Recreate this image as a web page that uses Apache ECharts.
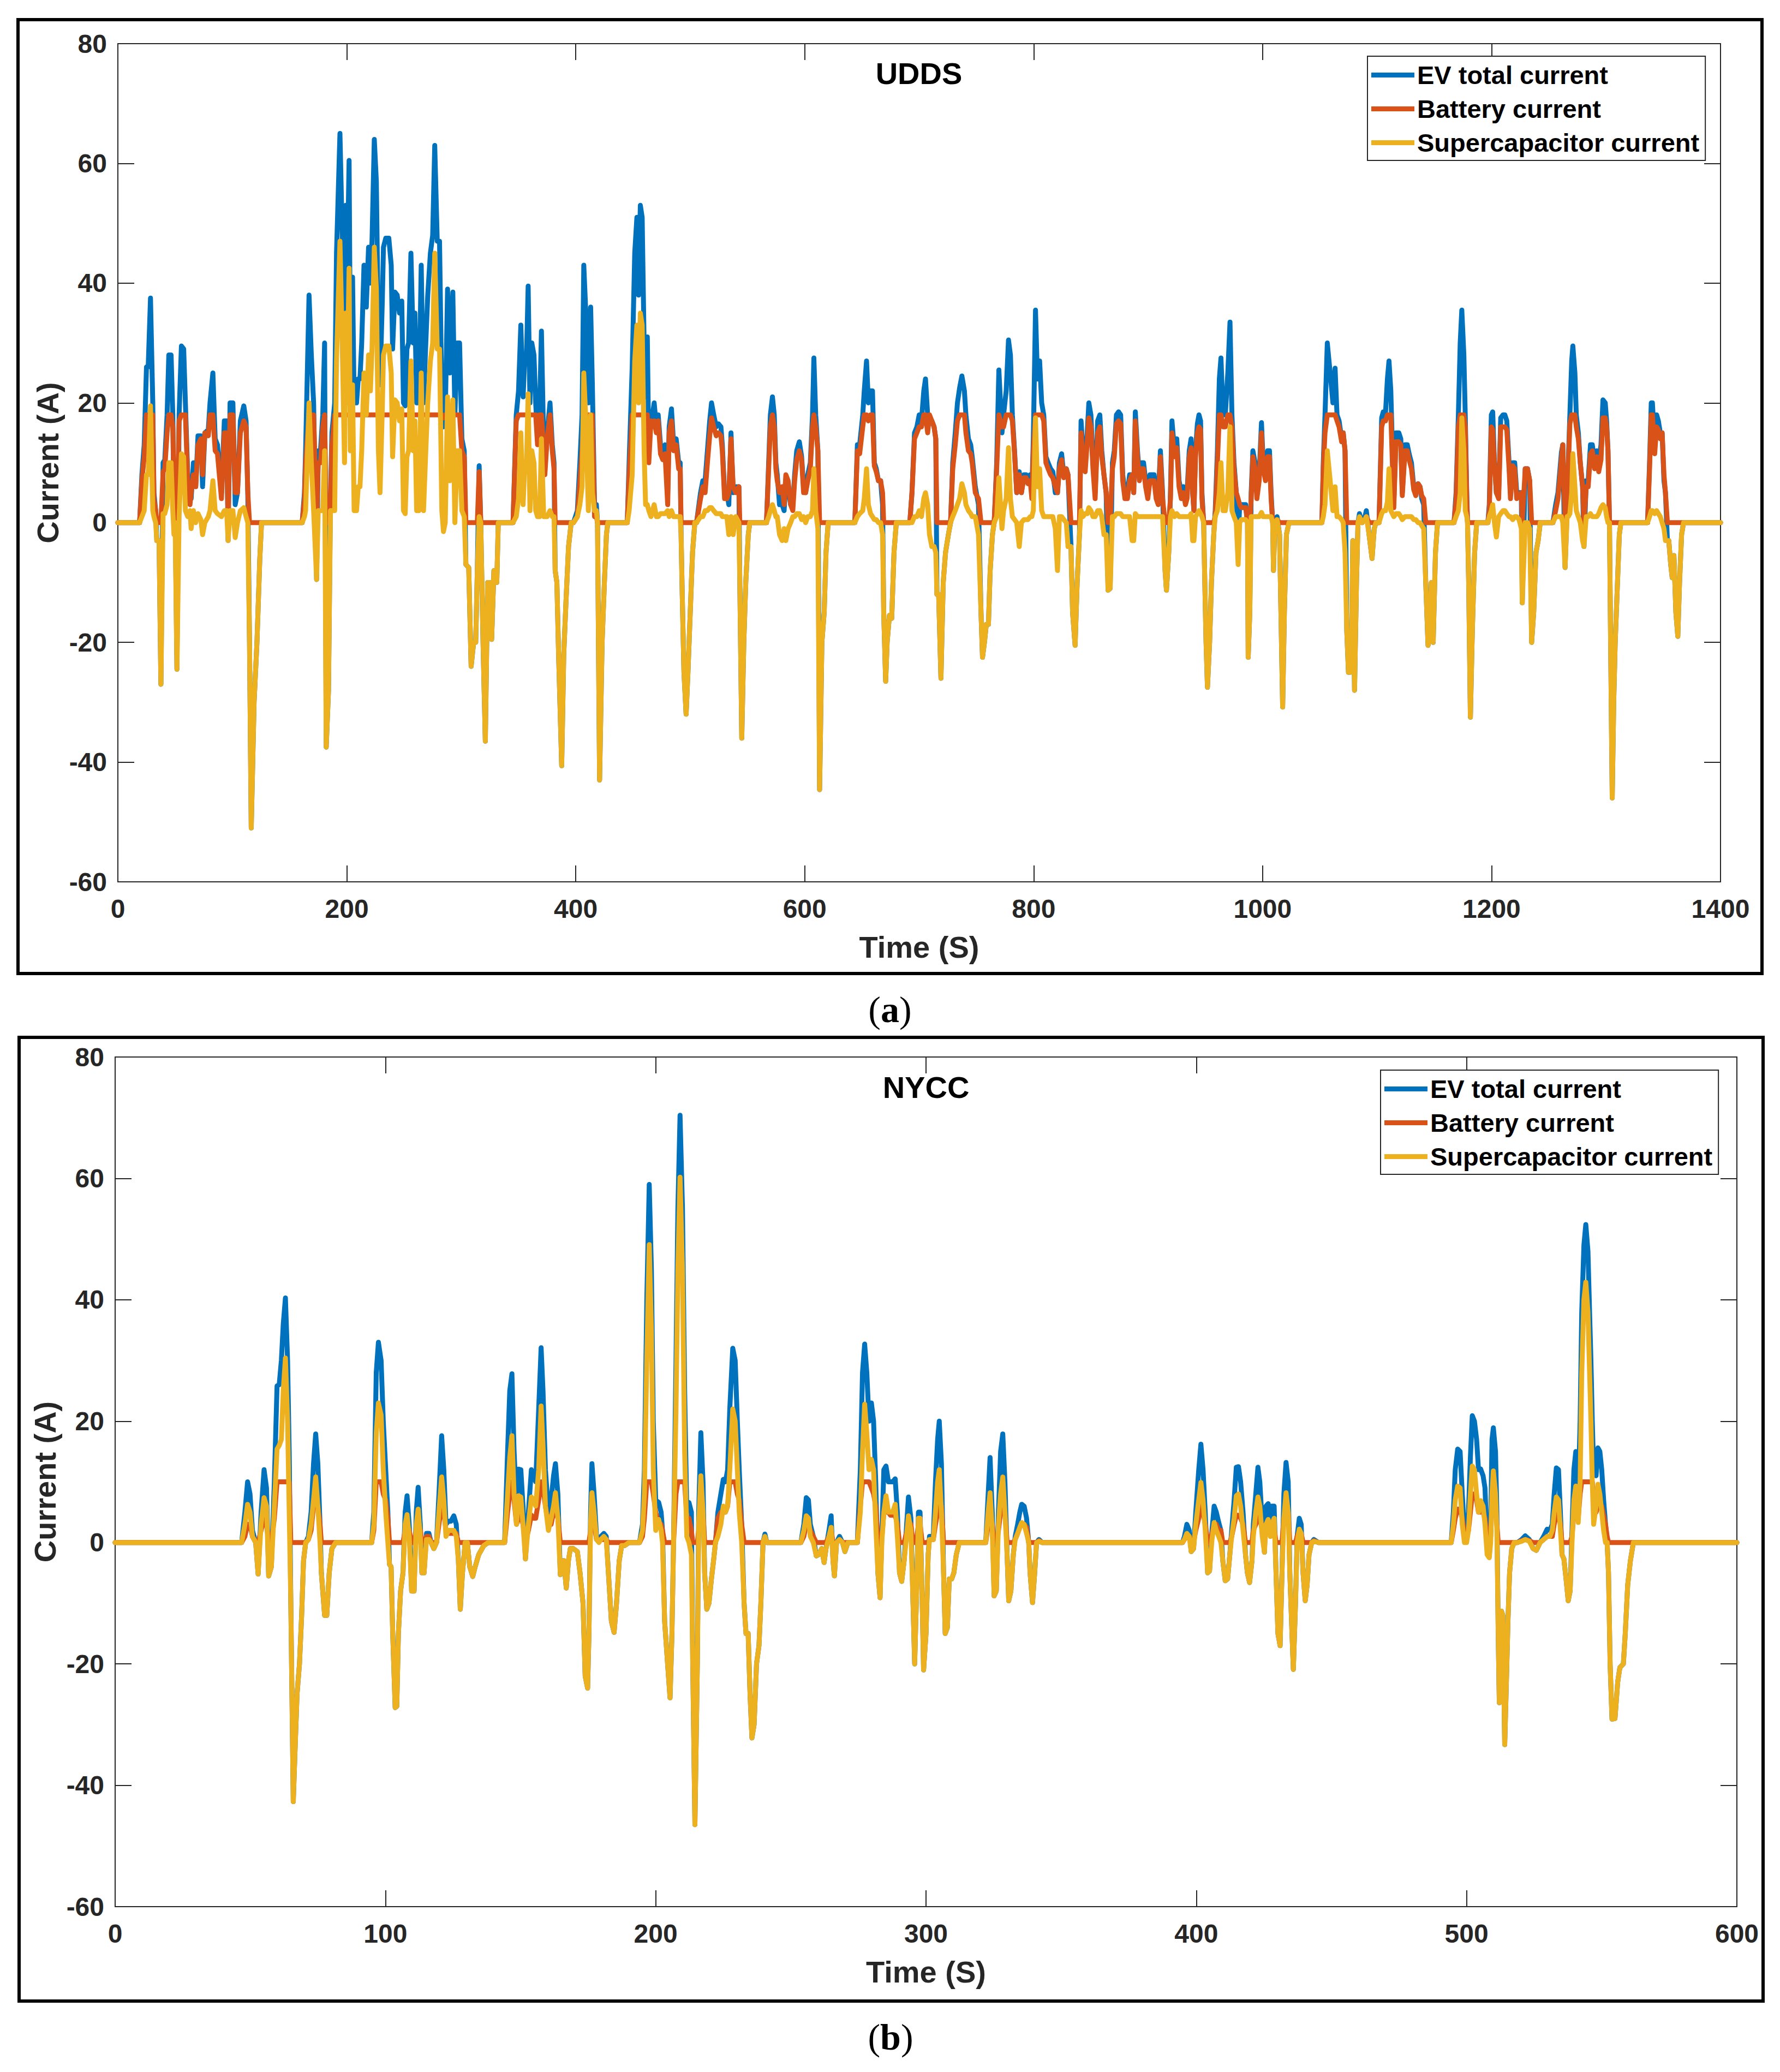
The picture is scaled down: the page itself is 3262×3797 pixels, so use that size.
<!DOCTYPE html>
<html><head><meta charset="utf-8">
<script src="https://cdn.jsdelivr.net/npm/echarts/dist/echarts.min.js"></script>
<style>html,body{margin:0;padding:0;background:#fff}#c{width:3262px;height:3797px}</style>
</head><body><div id="c"></div><script>
// ---------- UDDS (panel a) ----------
const uddsTime = [
0,19,21,23,25,26.5,28.5,30.5,31.5,33,
34,36,37.6,39.5,41,43,44.5,46.5,48,49,
50,51.6,53.5,55.5,57.5,59,61,63,64,66,
68,70,72.5,74,76,79,80.5,83,85,87,
90.5,93,95,96.3,98,100.5,102.5,104.5,107,110,
112,113.5,115,116.5,119,121.5,124,125.5,161,
163,164,167,169,171,173.6,175,177,179,180.6,
182,184,185.7,187,189.4,191,194,196,198,199,
200,202,203,205,206.4,208.5,210,211.5,213,215,
217,219,220.6,222,224,225.8,227.6,229,231,232,
234,236.7,238.8,240,242,244,246,248,249.5,251,
252.5,254,256,258,259.5,261,263,265,267,269,
270.7,273,275,276.8,279,281,283,284.4,286,288,
290,292.6,294.4,296.5,298.5,300.5,302.6,304,306.5,308.6,
310.8,312.6,314,315.6,317,319,321,323,325,326.5,
328.5,331,332.3,345.2,
348,350,352,354,355.6,357,358.4,360,361.6,363.5,
365,366.6,368.5,370,372,373,375,377.5,379.5,381,
382,383.5,385,387.7,389.5,391.5,393.7,396,398,
401.4,403.6,405.5,407,408.8,411,413,414.5,416.4,418,
419,420.8,423,425,426.8,428,445,
446.6,449.3,451.5,453.4,454.8,456.4,458,459.7,461,462.5,
463.8,465.7,467,468.5,470.4,472,474,476,478,480.3,
481.6,483.6,485.5,487.7,489.9,491.2,492,493,494.5,496.4,
498,500,502,504,505.5,
509,511,513,515,517,518.6,520.5,522.7,524.6,526.8,
528,530,532,533.7,535.6,537.5,539.7,542.5,543.3,545,
546.8,548.5,550.7,552,566.6,
568.5,570,571.8,573.4,574.8,576,578,580.3,582,583.5,
585.5,587.7,589.6,591.2,593,595.3,597.3,599,600.8,602.7,
604.9,606.8,608,609.6,611.5,613,615,617,618.6,620.5,
643.8,646,648,650.7,652,654,655.6,657.5,659.2,660.8,
662.5,664.4,666.3,668,669,670.7,672,674,676,678,
680,691.8,
693.7,695.9,698,700,702,704,705.5,707.4,709,711,
713,714.5,715.5,717,719,721,723,725.5,727.4,
729.3,731.5,733.4,735.3,737.3,739.5,740.8,743,745,746.3,
749,751.8,754,755.3,757,758.6,760.5,762,764,765.5,
767.7,769.6,772.3,773.7,776,778,779.7,781.4,783.3,785.2,
787.4,789.3,791.5,793.4,795,797,798.4,799.7,801.6,803.3,
805.2,807,808.8,810.7,812.6,814.8,816.7,818.9,820.8,822.5,
824.4,826.3,828.5,830,832.6,834,836.2,838,840,841.4,
843,845,846.8,848.2,850,851.8,853.7,855.9,857.8,859.5,
861.4,863.3,865,866.8,868.8,870.4,872.3,874.2,876,877.8,
879.7,881.9,883.8,886,887.4,888.8,890.7,892.3,894.2,896,
897.8,899.7,901.6,903.3,905.2,907,908.8,910.7,912.6,914.8,
916,918,919.5,920.8,923,925,927,929,930.7,932.6,
934,935.9,937.5,938.9,940,941.4,943,944.4,945.8,947,
948.5,949.5,950.6,951.8,953.7,955.3,957.3,958.6,
960.5,962.2,963.6,965.5,967.4,969.6,971.5,973.2,975,977,
978.6,980,981.4,983.3,985.2,986.8,987.4,988.8,990,991.5,
993.4,995,997,999,1000.5,1002.5,1004.4,1006,1007.4,1008.8,
1009.5,1010.7,1012.6,1014.8,1016,1017.5,1019,1020.8,1023,1051.8,
1053,1054.5,1056.5,1059,1061.4,1063.3,1065,1066.8,1069,1070.4,
1072,1073.5,1075,1076.5,1077.8,1078.8,1080.3,1082,1083.3,1084.6,
1086.9,1089.4,1090.6,1093,1095.6,1097.5,1099,1101.7,
1104,1105.4,1107.4,1109,1110.4,1112,1114.6,1116.5,1119,1120.7,
1122,1124.4,1126.4,1128,1130,1132,1133.8,1135.8,1137.5,1139,
1140.7,1142.5,1144.5,1146,1147.4,1149,1151,1152.8,1167.2,
1169,1171,1172.6,1174,1175.8,1177,1178.3,1179,1180,1181.5,
1183.2,1185.2,1187,1196.8,
1198,1199.8,1201,1202.5,1204.2,1206.2,1208,1210,1211.6,1213.3,
1215.3,1216.5,1218.5,1220.2,1222,1224,1226,1226.8,1229.4,1231.4,
1233.3,1235,1236.8,1238.8,1240.7,1242.5,1253.6,
1256,1258,1261,1262.2,1264.2,1266,1267,1268.4,1270,1271,
1272.8,1274,1275.8,1277.5,1279.5,1280.7,1282.7,1284.4,1286.4,1288,
1290,1292,1293.6,1295.6,1297.3,1299.3,1300.5,1301.7,1303,1304,
1305.4,1306.7,1308,1310,1311.6,1313,1336.3,
1338,1339.5,1340.5,1342.5,1344.2,1345.7,1347.4,1349,1350.6,1351.9,
1353.6,1354.8,1356.5,1357.8,1359.3,1361,1362.7,1364.2,1366,1367.7,1400
];
const uddsTotal = [
0,0,8,13,26,26,37.5,20,5,2,
-3,-3,-27,10,10.5,18,28,28,18,3,
3,-24.5,18,29.5,29,20,8,5,4,10,
6,14.5,14.5,6,15,15.5,20,25,14,13,
5,17,17,-3,20,20,3,5,17,19.5,
17,5,-20,-51,-30,-20,-6,0,0,
5,12,38,28,20,-9.5,12,12,18,30,
-37.5,-28,4,15,20,45,65,48,28,53,
38,60.5,30,41,20,20,24,24,30,43,
36,46,40,47,64,57,30,23,37,46,
47.5,47.5,43,29,38.5,38,35,37,20,19.5,
29,30,45,30,35,20,20,43,20,30,
38,45,48,63,47,47,20,16,18,39,
25,38.5,18,30,30,14,12,-7,-7.5,-24,
-20,-20,-8,9.5,0,-20,-36.5,-10,-10,-19.5,
-8,-10,0,0,
18,22,33,21,28,28,39.5,20,30,28,
20,14,19,32,13,9,15,20,13,10,
-8,-10,-22,-40.6,-22,-13,-4,0,0,
2,10,18,43,35,20,36,23,3,3,
0,-43,-20,-10,-2,0,0,
10,26,45,51,38,53,51,30,21,31,
12,18,18,20,16,18,13,12,13,5,
16,19,13,14,10,10,-2,-12,-25,-32,
-25,-15,-5,0,0,
5,7,7,12,17,20,18,16,16.5,16,
13,5,5,3,15,5,6,6,-10,-36,
-20,-10,-2,0,0,
10,18,21,18,10,8,3,3,2,6.5,
6,3,3,8,12,13.5,11,6,5,8,
10,18,27.5,18,12,-44.6,-20,-15,-5,0,
0,13,13,18,22,27,20,22,22,10,
9,7,7,3,-15,-26.5,-20,-15.5,-16,-5,
0,0,
5,15,16,18,17,22,24,18,17,17,
16,14,-12,-12,-26,-10,-5,-2,0,
10,15,20,22.5,24.5,22,18,14,13,11,
6,3,-15,-22.5,-20,-17,-17,-8,-2,0,
10,25.5,15,18,22,30.5,28,18,12,5,
8.5,5,8,8,7,8,5,14,35.5,24,
27,20,18,11,10,9,8.5,5,5,10,
11.5,8,9,8,-4,-15,-20.5,-10,-2,17,
12,10,15,20,18,10,5,17,18,12,
8,5,-11.3,-11,10,12,18,18.5,18,8,
5,5,8,8,5,18.5,12,8,10,10,
7,5,8,8,8,5,4,12,5,-8,
-11.3,-5,5,17,12,14,7,5,6,4,
5,12,14,5,2,12,16.5,18,17,5,
0,-10,-20,-27.5,-20,-10,-2,2,
12,24,27.5,18,18,25,33.5,18,10,5,
-3,3,3,3,3,0,-22.5,-15,5,12,
10,5,8,16.7,10,8,12,12,5,0,
-8,0,1,-2,-15,-30.8,-15,-2,0,0,
10,18,30,25,20,25.8,18,17,14,15,
12,-18,-25,-25,-18,-3,-28,-10,0,1.5,
0,1,2,-2,-6,-1,0,0,
17.5,18.5,18.5,24,27,22,3.3,15,15,14,
5,13,13,11.5,10,6,5,6.5,6,4,
3,-10,-20.5,-19.5,-10,-20,-5,0,0,
5,18,30,35.5,28,18,5,0,-10,-32.5,
-18,-5,0,0,
3,18,18.5,10,5,5,17.5,18,18,17,
10,5,10,10,5,5,5,-13.4,9,9,
7,-20,-15,-5,-3,0,0,
3,5,11.7,13,-7.5,2,10,18,27,29.5,
25,18,15,10,6,-4,7,7,13,13,
10,12,10,13,20.5,20,17,12,0,-20,
-46,-30,-20,-10,-2,0,0,
10,20,20,13,18,17,15,15,7,5,
-3,-3,-7,-9.2,-5.5,-15,-19,-10,-2,0,0
];
const uddsBattery = [
0,0,7,11,18,18,18,18,4,2,
0,0,0,8.5,9,15,18,18,16,5,
3,0,17,18,18,18,7,3,5,8,
6,13,14,8,15,14.5,18,18,12,11.5,
4,15,15,0,18,18,5,5,15,17,
16,5,0,0,0,0,0,0,0,
4,10,18,18,18,0,10,10,16,18,
0,0,2,13,18,18,18,18,18,18,
18,18,18,18,18,18,18,18,18,18,
18,18,18,18,18,18,18,18,18,18,
18,18,18,18,18,18,18,18,18,18,
18,18,18,18,18,18,18,18,18,18,
18,18,18,18,18,18,18,17.5,18,18,
18,18,18,18,18,12,11,0,0,0,
0,0,0,8.5,0,0,0,0,0,0,
0,0,0,0,
17,18,18,18,18,18,18,18,18,18,
18,13,18,18,12,8,14,18,12,9,
0,0,0,0,0,0,0,0,0,
1,7,12,18,18,18,18,18,1,1,
0,0,0,0,0,0,0,
8,18,18,18,18,18,18,18,18,18,
10,17,16,17,15,17,11.5,10.5,11.5,3,
15,17,12,13,9,9,0,0,0,0,
0,0,0,0,0,
4,6,5,10,14.5,17.5,16,14.5,15,14.5,
12,4,4,5,14,6,5,6,0,0,
0,0,0,0,0,
9,16,18,16,9,7,5,6,3,8,
7,3,2,7,10.5,12,10.5,5,5,7,
9,16,18,16,12,0,0,0,0,0,
0,12,11.5,16,18,18,17,18,18,9.5,
8.5,7,7,5,0,0,0,0,0,0,
0,0,
5,14,15,16,16,18,18,15,18,17,
16,14,0,0,0,0,0,0,0,
9,13,17,18,18,18,15,12,11.5,10,
5,4,0,0,0,0,0,0,0,0,
9,18,16,16,18,18,18,17,11.5,5,
8,5,7.5,7.5,6.5,7,4,12,18,18,
18,18,17,10,9,8,7.5,6,5,9,
10.5,7.5,9,8,0,0,0,0,0,15,
11,8.5,13.5,17.5,16,9,4,15,16,11,
8,5,0,0,9,11,16.5,17,16.5,7,
4,4,7,8,5,17,11,7,9,9,
6,4,7,7,7,4,3,11,4,0,
0,0,4,15,11,12.5,6,4,5,3,
4,11,12.5,5,2,11,15,16,15.5,4,
0,0,0,0,0,0,0,1,
10,18,18,16,16,18,18,16,9,5,
4,3,2.5,2.5,2.5,0,0,0,4,11,
9,4,7,15,9,7,11,11,4,0,
0,0,0.5,0,0,0,0,0,0,0,
9,15,18,18,18,18,17,16,13.5,15,
12,0,0,0,0,0,0,0,0,0.5,
0,0.5,1,0,0,0,0,0,
16,17,17,18,18,18,2.5,13.5,13.5,13,
4.5,12,12,10.5,9,5.5,4.5,6.5,6,4.5,
4,0,0,0,0,0,0,0,0,
4,16,18,18,18,16,4,0,0,0,
0,0,0,0,
2,16,15.5,10,5,4,16,16,16,15.5,
9,4,9.5,9,4,4.5,5,0,9,9,
7,0,0,0,0,0,0,
2,4,10.5,13,0,1,9,16.5,18,18,
18,16,14,10,6,0,6,6,11.5,12,
9,11,8.5,10.5,17.5,17.5,16,12,0,0,
0,0,0,0,0,0,0,
9,18,18,11.5,16,15.5,14,15,8,5,
0,0,0,0,0,0,0,0,0,0,0
];
const uddsSupercap = [
0,0,1,2,8,8,19.5,2,1,0,
-3,-3,-27,1.5,1.5,3,10,10,2,-2,
0,-24.5,1,11.5,11,2,1,2,-1,2,
0,1.5,0.5,-2,0,1,2,7,2,1.5,
1,2,2,-3,2,2,-2.5,0,2,2.5,
1,0,-20,-51,-30,-20,-6,0,0,
1,2,20,10,2,-9.5,2,2,2,12,
-37.5,-28,2,2,2,27,47,30,10,35,
20,42.5,12,23,2,2,6,6,12,25,
18,28,22,29,46,39,12,5,19,28,
29.5,29.5,25,11,20.5,20,17,19,2,1.5,
11,12,27,12,17,2,2,25,2,12,
20,27,30,45,29,29,2,-1.5,0,21,
7,20.5,0,12,12,2,1,-7,-7.5,-24,
-20,-20,-8,1,0,-20,-36.5,-10,-10,-19.5,
-8,-10,0,0,
1,4,15,3,10,10,21.5,2,12,10,
2,1,1,14,1,1,1,2,1,1,
-8,-10,-22,-40.6,-22,-13,-4,0,0,
1,3,6,25,17,2,18,5,2,2,
0,-43,-20,-10,-2,0,0,
2,8,27,33,20,35,33,12,3,3,
2,1,2,3,1,1,1.5,1.5,1.5,2,
1,2,1,1,1,1,-2,-12,-25,-32,
-25,-15,-5,0,0,
1,1,2,2,2.5,2.5,2,1.5,1.5,1.5,
1,1,1,-2,1,-2,1,0,-10,-36,
-20,-10,-2,0,0,
1,2,3,2,1,1,-2,-3,-1,-3,
-1,0,1,1,1.5,1.5,0.5,1,0,1,
1,2,9,2,-1,-44.6,-20,-15,-5,0,
0,1,1.5,2,4,9,3,1.5,1,0.5,
0.5,0,0,-2,-15,-26.5,-20,-15.5,-16,-5,
0,0,
0,1,1,2,1,4,5,3,-2,-4,
-4,-5,-12,-12,-26,-10,-5,-2,0,
1,2,3,4,6.5,5,3,2,1.5,1,
1,-2,-15,-22.5,-20,-17,-17,-8,-2,0,
1,7.5,-1,2,4,12.5,4,1,0.5,0,
-4,0,0.5,0.5,0.5,1,1,2,17.5,6,
9,2,1,1,1,1,1,-1,-8,1,
1,0.5,0,-4,-4,-15,-20.5,-10,-2,2,
1,1.5,1.5,2.5,2,1,1,2,2,1,
-2,-2,-11.3,-11,1,1,1.5,1.5,1.5,1,
1,1,1,-3,-3,1.5,1,1,1,1,
1,1,1,1,1,1,1,1,1,-8,
-11.3,-5,1,2,1,1.5,1,1,1,1,
1,1,1.5,-3,-3,1,1.5,2,1.5,1,
0,-10,-20,-27.5,-20,-10,-2,1,
2,5,10,2,2,5,16,2,1,0,
-7,0,0.5,0.5,0.5,0,-22.5,-15,1,1,
1,1,1,1.7,1,1,1,1,1,0,
-8,0,0.5,-2,-15,-30.8,-15,-2,0,0,
1,3,12,7,2,6,1,1,0.5,0,
-5,-18,-25,-25,-18,-3,-28,-10,0,1,
0,0.5,1,-2,-6,-1,0,0,
1.5,2,2,3.5,9,2,1,1.5,1.5,1,
0.5,1,1,1,1,0.5,0.5,0,0,-0.5,
-1,-10,-20.5,-19.5,-10,-20,-5,0,0,
1,2,5,17.5,12,2,1,0,-10,-32.5,
-18,-5,0,0,
1,2,3,0,-2.4,1,1.5,2,2,1.5,
1,1,0.5,1,1,0.5,-1,-13.4,0,0,
-1,-20,-15,-5,-3,0,0,
1,1,1,0,-7.5,1,1,1.5,5,11.5,
6,2,1,0,-3,-4,1,1,1.5,1,
1,1,1.5,2.5,3,2.5,1,0,0,-20,
-46,-30,-20,-10,-2,0,0,
1,2,2,1.5,2,1.5,1,0,-1,-3,
-3,-3,-7,-9.2,-5.5,-15,-19,-10,-2,0,0
];

// ---------- NYCC (panel b) ----------
const nyccTime = [
0,46.8,48,49,49.9,50.8,52,52.9,54,55.1,
56,56.8,57.8,58.9,59.9,60.7,61.5,62.2,63,63.8,
64.4,65,65.9,66.5,67.3,68.2,69,69.7,70.5,71.5,
72.5,73.4,74.2,75,75.8,76.3,77.5,78.3,79.2,80.2,
81.6,94.9,95.7,96.6,97.4,98.4,99.2,100.1,100.9,101.5,
102.1,102.7,103.6,104.2,104.8,105.6,106.5,107.3,108,108.8,
109.7,110.6,111.4,112.1,112.9,113.5,114.3,115.2,116.1,116.9,
117.9,118.9,119.8,120.8,121.6,122.4,123.3,124.2,125.3,126.2,
127,127.7,128.5,129.5,130.3,131.2,132.3,133.2,134.5,136.4,
138,144.1,145.2,146,146.8,147.6,148.5,149.2,150.1,150.9,
151.8,152.9,154,154.8,155.6,156.7,157.6,158.3,159.2,160.3,
161.3,162.2,162.9,163.8,164.7,165.5,166,166.9,167.7,168.4,
169.5,171,172,173.1,173.9,174.8,175.3,175.9,176.4,177.2,
178.1,179,179.7,180.8,181.7,182.5,183.6,184.6,185.5,186.5,
187.4,188.5,190.1,194,195.1,195.8,196.7,197.6,198.4,199.1,
200,201.1,202,202.5,203.3,204.4,205.3,206,206.6,207.5,
208.2,209,209.9,210.7,211.5,212.3,213.2,213.7,214.5,215.4,
215.9,216.7,217.5,218.1,218.9,219.7,220.6,221.4,222.1,223,
224.1,225,225.8,226.6,227.4,228.5,229.4,230.2,230.9,231.8,
232.7,233.4,234.2,234.9,235.6,236.4,237.3,238.2,238.9,239.7,
240.4,241.1,253.7,254.8,255.7,256.5,257.2,258.3,259.4,260.3,
261.4,262.3,263,264.1,264.9,265.6,266.1,266.9,268,269.1,
270,271.1,274.6,275.7,276.5,277.3,278.1,278.9,279.8,280.6,
281.4,282.2,283,283.7,284.4,285.2,286.1,286.8,287.7,288.6,
289.4,290.2,291,291.9,292.7,293.5,294.4,295.2,295.8,296.4,
297.2,297.8,298.6,299.1,300,300.8,301.3,302.1,302.7,303.5,
304.3,304.9,305.7,306.5,307.1,307.9,308.6,309.5,310.3,311.2,
312.3,322.1,323,323.7,324.5,325.2,326,326.8,327.6,328.4,
329.2,330,330.6,331.4,332.3,333,333.9,334.7,335.4,336.3,
337.2,338,338.5,339.4,340.2,340.9,341.8,342.9,394.9,395.6,
396.5,397.4,398.1,399,399.8,400.9,401.7,402.5,403.3,404.2,
404.9,405.8,406.6,407.4,408.3,409.1,409.8,410.7,411.6,412.4,
413.1,414,414.8,415.6,416.4,417.3,418.2,418.9,419.7,420.6,
421.1,422,422.8,423.5,424.4,425.2,425.8,426.6,427.4,428,
428.8,429.5,430.2,431,431.7,432.4,433.2,434,434.6,435.4,
435.9,436.7,437.3,438.1,438.8,439.5,440.3,441,441.7,442.7,
443.5,445.2,494.3,495.1,495.8,496.7,497.6,498.4,499.2,500,
500.7,501.4,502.1,502.9,503.7,504.4,505.2,506.1,506.8,507.6,
508.4,508.9,509.4,509.9,510.7,511.2,511.7,512.1,512.9,513.4,
514.1,514.6,515.3,515.9,516.7,517.6,518.8,520.4,521.7,523.2,
524.6,525.8,527.2,528.5,529.8,530.8,531.7,532.4,533.2,534,
534.7,535.3,536,536.8,537.6,538.3,539,539.7,540.4,541.3,
542,542.6,543.4,544.1,544.9,545.5,546,546.5,547,547.9,
548.6,549.3,550,550.7,551.4,552,552.5,553.1,553.8,554.9,
555.9,556.7,558,558.7,559.6,560.6,561.7,600
];
const nyccTotal = [
0,0,5,10,8,2,0,-5.2,5,12,
9,-5.5,-4,10,25.8,26,30,36,40.3,30,
15,-10,-42.7,-35,-25,-20,-12,-3,0,1,
5,13,17.9,13,3,-5,-12,-12,-5,-1,
0,0,5,28,33,30,20,12,5,-3.6,
-4,-15,-27.2,-27,-15,-8,-5,5,7.7,3,
-8,-8,5,9.1,3,-5,-5,1.5,1.5,0,
-1,0,8,17.6,12,3,3.5,3.5,4.4,3,
-3,-11,-5,0,0,-4,-5.6,-4,-2,-0.5,
0,0,15,25,27.8,15,6,12.1,12,6,
-2.7,5,12,11,10,22,32.1,25,12,5,
7,11,13,8,-5.3,-3,-3,-7.5,-3,-1,
-1,-1.5,-5,-10,-22,-24,-15,5,13,8,
1,0.5,1,1.5,1,-5,-13,-14.8,-10,-3,
-0.5,-0.5,0,0,3,12,40,59,45,20,
7,6.6,5,2,-13,-20,-25.6,-15,0,30,
55,70.4,55,25,5,6.6,5,-20,-46.5,-20,
5,18.1,10,-5,-11,-10,-6,-3,0,5,
8,10.4,10,12,22,32,30,20,12,3,
-10,-15,-15,-25,-32.2,-30,-20,-17,-10,0,
1.4,0,0,3,7.4,7,3,1,-2.2,-2,
-1,-3.3,-1,2,4.4,-3,-5.5,0,1,0,
-1.5,0,0,12,28,32.7,28,20,23,20,
10,-5,-9.1,2,12,12.6,10,10,10,10.5,
5,-5,-6.4,-3,2,7.5,4,-10,-20,-10,
5,5,-10,-21,-15,-2,1,1,1,10,
17,20,13,-5,-15,-14,-6,-6,-5,-2,
0,0,8,14,5,-8.8,-8,5,15,17.9,
10,-2,-9.6,-8,-2,1,3,5,6.3,6,
4,0,-5,-9.9,-5,0,0.5,0,0,1,
3,2,-1.5,-1,5,12,16.2,12,5,-5,
-4.7,2,6,5,3.3,2,-3,-6.3,-6,-2,
2,7,12.4,12.5,10,5,-2,-5,-6.6,-3,
3,8,12.4,10,3,-1.6,6,6.4,3,6,
6,-5,-15,-17,-5,8,13.2,10,-5,-15,
-20.9,-10,1,4,3,-5,-9.6,-7,-2,0,
0.5,0,0,5,12,15.4,15,8,2,1,
5,14,20.9,20,17,12,12.1,11,9,0,
-2.2,2,17,18.9,15,5,-15,-26.4,-11.3,-12,
-33.3,-25,-13,-5,-1,0,0,0.5,1.1,0.5,
-1,-1.3,0,1,2.2,2,3,8,12.3,12,
5,-2,-2.7,-6,-9.6,-8,2,12,15,8,
20,38,49,52.4,48,38,30,20,12,11,
15.6,15,12,7,3,0,-5,-20,-29.1,-29,
-23,-20.6,-20,-15,-7,-3,0,0
];
const nyccBattery = [
0,0,1,3,3,1,0,0,2,4,
3,0,0,4,10,10,10,10,10,10,
10,0,0,0,0,0,0,0,0,0.5,
2,6,6.5,6,3,0,0,0,0,0,
0,0,2,10,10,10,8,7,4,0,
0,0,0,0,0,0,0,2,3,2,
0,0,2,3.5,2,0,0,1,1,0,
0,0,3,6.5,5,2,1.5,1.5,1.5,1.5,
0,0,0,0,0,0,0,0,0,0,
0,0,5,8,10,7,3,4,4.5,3,
0,2,4.5,4,4,7,10,9,6,3,
3,5,5.5,4,0,0,0,0,0,0,
0,0,0,0,0,0,0,2,5,3,
0.5,0.5,0.5,0.5,0.5,0,0,0,0,0,
0,0,0,0,1,4,10,10,10,8,
5,3,3,2,0,0,0,0,0,8,
10,10,10,10,4,4,2,0,0,0,
2,7,5,0,0,0,0,0,0,4,
5,5,5,6,10,10,10,8,7,3,
0,0,0,0,0,0,0,0,0,0,
0.5,0,0,1,3,3,2,1,0,0,
0,0,0,1,2,0,0,0,0.5,0,
0,0,0,6,10,10,10,10,9,8,
6,0,0,1,5,5,5,4.5,4.5,4.5,
3,0,0,0,1.5,3,3,0,0,0,
3,3,0,0,0,0,0.5,0.5,0.5,3,
5,7,6,0,0,0,0,0,0,0,
0,0,3,5,3,0,0,2,5,6,
5,0,0,0,0,0.5,1.5,2.5,3,3,
2.5,0,0,0,0,0,0.3,0,0,0.5,
1,1,0,0,2,4,6,5,3,0,
0,1.5,3,3,2,2,0,0,0,0,
1,3,4.5,4.5,4,3,0,0,0,0,
2,3,4.5,4,2,0,3,2.5,2,3,
2.5,0,0,0,0,4,5,5,0,0,
0,0,1,2,1.5,0,0,0,0,0,
0.3,0,0,2,4,5.5,5.5,4,1.5,1,
2,5,8,8,7,5,5,5,4,1,
0,1,7,7.5,7,3,0,0,0,0,
0,0,0,0,0,0,0,0.3,0.5,0.3,
0,0,0,0.5,1,1,1,3,4.5,5,
3,0,0,0,0,0,1,5,5.5,4,
8,10,10,10,10,10,10,10,8,5,
6,6,6,4.5,3,1,0,0,0,0,
0,0,0,0,0,0,0,0
];
const nyccSupercap = [
0,0,3,6.3,5,1,0,-5.2,3,7.4,
6,-5.5,-4,6,15.4,16,17,25,30.4,20,
5,-10,-42.7,-35,-25,-20,-12,-3,0,0.5,
3,7,10.8,6,0,-5,-12,-12,-5,-1,
0,0,3,18,23,21,12,5,0,-3.6,
-4,-15,-27.2,-27,-15,-8,-5,3,4.6,1,
-8,-8,3,5.5,1,-5,-5,0.5,0.5,0,
-1,0,5,10.8,7,1,2,2,2,1,
-3,-11,-5,0,0,-4,-5.6,-4,-2,-0.5,
0,0,8,14,17.6,8,3,7.7,7.5,3,
-2.7,3,7.5,7,6,12,22.5,16,6,2,
4,6,8.2,4,-5.3,-3,-3,-7.5,-3,-1,
-1,-1.5,-5,-10,-22,-24,-15,3,8.2,5,
0.5,0,0.5,1,0.5,-5,-13,-14.8,-10,-3,
-0.5,-0.5,0,0,2,8,30,49.1,35,12,
2,3.8,2,0,-13,-20,-25.6,-15,0,22,
45,60.2,45,15,1,0,-2,-20,-46.5,-20,
3,11,5,-5,-11,-10,-6,-3,0,1,
3,6,5,6,12,22,20,12,5,0,
-10,-15,-15,-25,-32.2,-30,-20,-17,-10,0,
1,0,0,2,4.4,4,1,0,-2.2,-2,
-1,-3.3,-1,1,2.5,-3,-5.5,0,0.5,0,
-1.5,0,0,5,15,22.8,18,12,13.7,12,
3,-5,-9.1,0.5,5,7.7,5,5,5,6.3,
1,-5,-6.4,-3,0.5,4.4,2,-10,-20,-10,
4,4,-10,-21,-15,-2,0.5,0.5,0.5,5,
10,12,5,-5,-15,-14,-6,-6,-5,-2,
0,0,5,8.2,2,-8.8,-8,3,8,10.8,
5,-2,-9.6,-8,-2,0.5,1.5,2.5,3.3,3,
1.5,0,-5,-9.9,-5,0,0.2,0,0,0.5,
1.5,1,-1.5,-1,3,7,9.9,7,2,-5,
-4.7,0.5,3.3,2,1,0,-3,-6.3,-6,-2,
1,4,7.7,8,6,2,-2,-5,-6.6,-3,
1,5,7.5,6,1,-1.6,3,3.8,1,3,
4,-5,-15,-17,-5,4,8.2,5,-5,-15,
-20.9,-10,0,2.2,1.5,-5,-9.6,-7,-2,0,
0.2,0,0,3,7,9.3,9,3,0,0,
2,8,12.6,12,8,5,6.9,6,3,-2,
-2.5,0,8,11.8,8,2,-15,-26.4,-11.3,-12,
-33.3,-25,-13,-5,-1,0,0,0.2,0.5,0.2,
-1,-1.3,0,0.5,1,1,2,5,7.5,7,
2,-2,-2.7,-6,-9.6,-8,0,7,9.3,3.3,
10,28,40,42.9,38,28,20,10,3,6,
9.6,8,5,2,0,0,-5,-20,-29.1,-29,
-23,-20.6,-20,-15,-7,-3,0,0
];

// ---------- axes / labels ----------
const seriesNames = ['EV total current', 'Battery current', 'Supercapacitor current'];
const seriesColors = ['#0072BD', '#D95319', '#EDB120'];
const yTicks = { min: -60, max: 80, step: 20 };
const uddsX = { max: 1400, step: 200 };
const nyccX = { max: 600, step: 100 };
const panelTitles = ['UDDS', 'NYCC'];
const panelLetters = ['a', 'b'];

function zip(t, v) {
  const n = Math.min(t.length, v.length);
  if (t.length !== v.length) console.warn('length mismatch', t.length, v.length);
  const out = [];
  for (let i = 0; i < n; i++) out.push([t[i], v[i]]);
  return out;
}

const FONT = '"Liberation Sans", Arial, Helvetica, sans-serif';
const SERIF = '"Liberation Serif", "Times New Roman", serif';
const AX = '#262626';
const axLine = { show: true, onZero: false, lineStyle: { color: AX, width: 2 } };
const axTick = { show: true, inside: true, length: 30, lineStyle: { color: AX, width: 2 } };
const plain = v => String(v);

function xPair(gi, cfg) {
  return [{
    type: 'value', gridIndex: gi, position: 'bottom', min: 0, max: cfg.max, interval: cfg.step,
    axisLine: axLine, axisTick: axTick, splitLine: { show: false },
    axisLabel: { show: true, formatter: plain, color: AX, fontFamily: FONT, fontWeight: 'bold', fontSize: 48, margin: 25, showMinLabel: true, showMaxLabel: true },
    name: 'Time (S)', nameLocation: 'middle', nameGap: 91,
    nameTextStyle: { color: AX, fontFamily: FONT, fontWeight: 'bold', fontSize: 56 }
  }, {
    type: 'value', gridIndex: gi, position: 'top', min: 0, max: cfg.max, interval: cfg.step,
    axisLine: axLine, axisTick: axTick, splitLine: { show: false }, axisLabel: { show: false }
  }];
}
function yPair(gi) {
  return [{
    type: 'value', gridIndex: gi, position: 'left', min: yTicks.min, max: yTicks.max, interval: yTicks.step,
    axisLine: axLine, axisTick: axTick, splitLine: { show: false },
    axisLabel: { show: true, formatter: plain, color: AX, fontFamily: FONT, fontWeight: 'bold', fontSize: 48, margin: 20, showMinLabel: true, showMaxLabel: true },
    name: 'Current (A)', nameLocation: 'middle', nameGap: 100, nameRotate: 90,
    nameTextStyle: { color: AX, fontFamily: FONT, fontWeight: 'bold', fontSize: 56 }
  }, {
    type: 'value', gridIndex: gi, position: 'right', min: yTicks.min, max: yTicks.max, interval: yTicks.step,
    axisLine: axLine, axisTick: axTick, splitLine: { show: false }, axisLabel: { show: false }
  }];
}
function mkLine(idx, data, xi, yi) {
  return {
    type: 'line', name: seriesNames[idx], data, xAxisIndex: xi, yAxisIndex: yi,
    symbol: 'none', showSymbol: false, animation: false, silent: true, clip: true, z: 2 + idx,
    lineStyle: { color: seriesColors[idx], width: 9, cap: 'round', join: 'round' },
    itemStyle: { color: seriesColors[idx] }
  };
}
function mkLegend(left, top) {
  return {
    show: true, orient: 'vertical', left, top, data: seriesNames, selectedMode: false,
    backgroundColor: '#fff', borderColor: AX, borderWidth: 2, borderRadius: 0,
    padding: [11, 11, 9, 7], itemGap: 15, itemWidth: 79, itemHeight: 9, icon: 'rect',
    textStyle: { color: '#000', fontFamily: FONT, fontWeight: 'bold', fontSize: 47 }
  };
}
function txt(x, y, text, font) {
  return { type: 'text', x, y, silent: true, z: 50,
    style: { text, font, fill: '#000', textAlign: 'center', textVerticalAlign: 'middle', align: 'center', verticalAlign: 'middle' } };
}
function letter(x, y, l) {
  return { type: 'text', x, y, silent: true, z: 50,
    style: {
      text: '{p|(}{l|' + l + '}{p|)}', fill: '#000',
      textAlign: 'center', textVerticalAlign: 'middle', align: 'center', verticalAlign: 'middle',
      rich: {
        p: { fontFamily: SERIF, fontSize: 68, fontWeight: 'normal', fill: '#000', color: '#000' },
        l: { fontFamily: SERIF, fontSize: 68, fontWeight: 'bold', fill: '#000', color: '#000' }
      }
    } };
}

const chart = echarts.init(document.getElementById('c'), null, { renderer: 'svg', width: 3262, height: 3797 });
const option = {
  backgroundColor: '#fff',
  animation: false,
  grid: [
    { left: 216, top: 80, width: 2937, height: 1536, containLabel: false, outerBoundsMode: 'none' },
    { left: 211, top: 1937, width: 2972, height: 1557, containLabel: false, outerBoundsMode: 'none' }
  ],
  xAxis: [...xPair(0, uddsX), ...xPair(1, nyccX)],
  yAxis: [...yPair(0), ...yPair(1)],
  legend: [mkLegend(2506, 103), mkLegend(2530, 1961)],
  series: [
    mkLine(0, zip(uddsTime, uddsTotal), 0, 0),
    mkLine(1, zip(uddsTime, uddsBattery), 0, 0),
    mkLine(2, zip(uddsTime, uddsSupercap), 0, 0),
    mkLine(0, zip(nyccTime, nyccTotal), 2, 2),
    mkLine(1, zip(nyccTime, nyccBattery), 2, 2),
    mkLine(2, zip(nyccTime, nyccSupercap), 2, 2)
  ],
  graphic: [
    { type: 'rect', silent: true, z: 40, shape: { x: 33, y: 36, width: 3196, height: 1748 }, style: { fill: 'none', stroke: '#000', lineWidth: 6 } },
    { type: 'rect', silent: true, z: 40, shape: { x: 35, y: 1901, width: 3196, height: 1766 }, style: { fill: 'none', stroke: '#000', lineWidth: 6 } },
    txt(1684, 134, panelTitles[0], 'bold 56px ' + FONT),
    txt(1697, 1992, panelTitles[1], 'bold 56px ' + FONT),
    letter(1631, 1850, panelLetters[0]),
    letter(1632, 3733, panelLetters[1])
  ]
};
chart.setOption(option);
</script></body></html>
